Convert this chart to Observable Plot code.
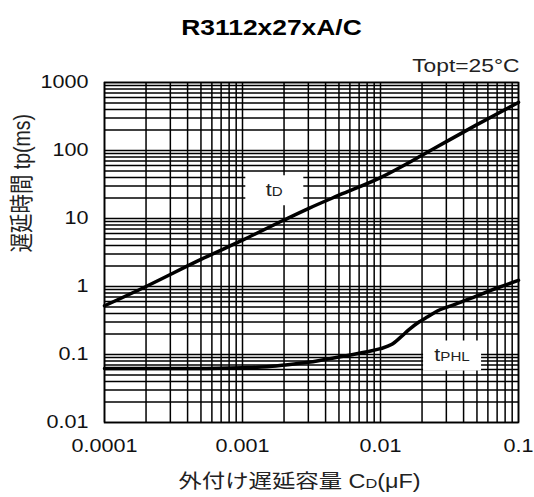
<!DOCTYPE html>
<html>
<head>
<meta charset="utf-8">
<script src="https://cdn.jsdelivr.net/npm/d3@7"></script>
<script src="https://cdn.jsdelivr.net/npm/@observablehq/plot@0.6"></script>
<style>
  html, body { margin: 0; padding: 0; background: #fff; }
  svg { font-family: "Liberation Sans", Arial, "Noto Sans CJK JP", sans-serif; }
</style>
</head>
<body>
<div id="chart"></div>
<script>
// ---- data ----
const title = "R3112x27xA/C";
const condition = "Topt=25°C";
const xLabel = "外付け遅延容量 C_{D}(μF)";
const yLabel = "遅延時間 tp(ms)";

const xTicks = [0.0001, 0.001, 0.01, 0.1];
const xTickLabels = ["0.0001", "0.001", "0.01", "0.1"];
const yTicks = [0.01, 0.1, 1, 10, 100, 1000];
const yTickLabels = ["0.01", "0.1", "1", "10", "100", "1000"];

// tD curve
const tdC = [0.0001, 0.0002, 0.0005, 0.001, 0.002, 0.003, 0.005, 0.01, 0.02, 0.03, 0.05, 0.1];
const tdT = [0.52, 1.0, 2.5, 4.8, 9.5, 14, 22, 40, 85, 135, 240, 510];

// tPHL curve
const phlC = [0.0001, 0.0003, 0.001, 0.0015, 0.002, 0.003, 0.005, 0.008, 0.01, 0.012, 0.014, 0.016, 0.019, 0.022, 0.026, 0.035, 0.05, 0.07, 0.1];
const phlT = [0.062, 0.062, 0.064, 0.066, 0.070, 0.077, 0.092, 0.11, 0.122, 0.14, 0.18, 0.23, 0.30, 0.36, 0.44, 0.55, 0.73, 0.95, 1.23];

// curve labels
const labelNames = ["t_{D}", "t_{PHL}"];
const labelC = [0.0017, 0.033];
const labelT = [26, 0.097];

// ---- build ----
const td = tdC.map((c, i) => ({c, t: tdT[i]}));
const phl = phlC.map((c, i) => ({c, t: phlT[i]}));
const labels = labelNames.map((n, i) => ({n, c: labelC[i], t: labelT[i]}));

function minorTicks(lo, hi) {
  const out = [];
  for (let e = lo; e < hi; e++) for (let k = 1; k < 10; k++) out.push(+(k * Math.pow(10, e)).toPrecision(3));
  out.push(Math.pow(10, hi));
  return out;
}
const xGrid = minorTicks(-4, -1);
const yGrid = minorTicks(-2, 3);

const boxSymbol = {
  draw(ctx) { ctx.rect(-29, -15, 58, 30); }
};

const stretch = 1.2; // reference text is drawn horizontally wide

const chart = Plot.plot({
  width: 534,
  height: 497,
  marginLeft: 104,
  marginRight: 16,
  marginTop: 82,
  marginBottom: 75,
  style: {fontSize: "18px", color: "#111", background: "#fff"},
  x: {type: "log", domain: [0.0001, 0.1], ticks: xTicks, tickFormat: (d) => xTickLabels[xTicks.indexOf(d)], tickSize: 0, tickPadding: 17, label: null},
  y: {type: "log", domain: [0.01, 1000], ticks: yTicks, tickFormat: (d) => yTickLabels[yTicks.indexOf(d)], tickSize: 0, tickPadding: 16, label: null},
  marks: [
    Plot.gridX(xGrid, {stroke: "#000", strokeOpacity: 1, strokeWidth: 1.5}),
    Plot.gridY(yGrid, {stroke: "#000", strokeOpacity: 1, strokeWidth: 1.5}),
    Plot.frame({stroke: "#000", strokeWidth: 1.6}),
    Plot.dot(labels, {x: "c", y: "t", symbol: boxSymbol, fill: "#fff", stroke: null, r: 10}),
    Plot.line(td, {x: "c", y: "t", stroke: "#000", strokeWidth: 3.5, curve: "monotone-x"}),
    Plot.line(phl, {x: "c", y: "t", stroke: "#000", strokeWidth: 3.5, curve: "monotone-x"}),
    Plot.text(labels, {x: "c", y: "t", text: "n", fontSize: 18, fill: "#222"}),
    Plot.text([title], {frameAnchor: "top", lineAnchor: "middle", dy: -55, dx: -40, text: d => d, fontSize: 22, fontWeight: "bold", fill: "#000"}),
    Plot.text([condition], {frameAnchor: "top-right", lineAnchor: "middle", dy: -17, dx: 1, textAnchor: "end", text: d => d, fontSize: 19, fill: "#222"}),
    Plot.text([xLabel], {frameAnchor: "bottom", lineAnchor: "middle", dy: 59, dx: -12, text: d => d, fontSize: 19.5, fill: "#222"}),
    Plot.text([yLabel], {frameAnchor: "left", lineAnchor: "middle", dx: -82, dy: 0, rotate: -90, text: d => d, fontSize: 19.5, fill: "#222"})
  ]
});

// subscripts: "X_{sub}Y" -> tspans
d3.select(chart).selectAll("text").each(function() {
  const el = this;
  const targets = el.querySelectorAll("tspan").length ? Array.from(el.querySelectorAll("tspan")) : [el];
  targets.forEach(t => {
    const s = t.textContent;
    if (!s.includes("_{")) return;
    const parts = s.split(/(_\{[^}]*\})/);
    t.textContent = "";
    parts.forEach(p => {
      if (!p) return;
      const sp = document.createElementNS("http://www.w3.org/2000/svg", "tspan");
      if (p.startsWith("_{")) {
        sp.textContent = p.slice(2, -1);
        sp.setAttribute("font-size", "0.7em");
      } else {
        sp.textContent = p;
      }
      t.appendChild(sp);
    });
  });
  // horizontal stretch of glyphs, anchored at the text's own position
  const tr = el.getAttribute("transform") || "";
  el.setAttribute("transform", tr + (tr.includes("rotate") ? ` scale(1,${stretch})` : ` scale(${stretch},1)`));
});

document.getElementById("chart").appendChild(chart);
</script>
</body>
</html>
